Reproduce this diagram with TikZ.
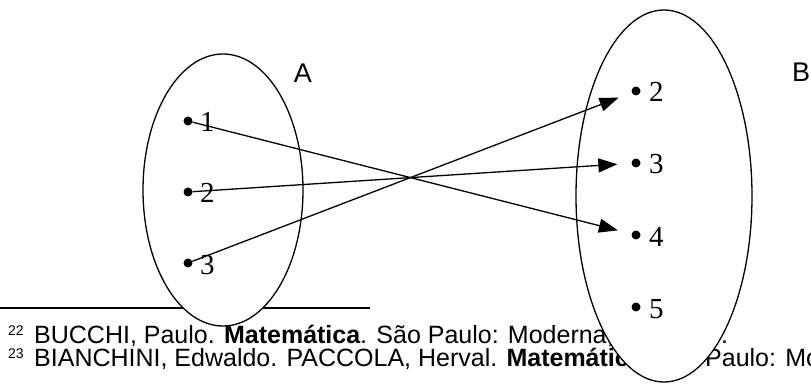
\documentclass[tikz,border=0pt]{standalone}
\usepackage{fontspec}
\setmainfont{Liberation Serif}
\newfontfamily\arialfont{Liberation Sans}
\usetikzlibrary{arrows.meta, positioning}

\begin{document}
\begin{tikzpicture}[x=1pt, y=-1pt,
    elem/.style={circle, fill=black, inner sep=0pt, minimum size=9pt},
    num/.style={anchor=base west, inner sep=0pt, font=\fontsize{29}{30}\selectfont},
    setname/.style={inner sep=0pt, font=\arialfont\fontsize{27}{30}\selectfont},
    fnote/.style={anchor=base west, inner sep=0pt, font=\arialfont\fontsize{25}{28}\selectfont},
    fnmark/.style={anchor=base west, inner sep=0pt, font=\arialfont\fontsize{14}{16}\selectfont},
    mapsto/.style={line width=1.3pt, -{Triangle[length=19pt, width=14pt]}, shorten >=14pt}]
    \useasboundingbox (0,0) rectangle (811,390);

    % Footnotes, partly hidden by the sets
    \draw[line width=1.5pt] (0,308) -- (370,308);
    \node[fnmark] (m22) at (8,335) {22};
    \node[fnote] (fn22) at (34,343) {BUCCHI, Paulo. \textbf{Matemática}. São Paulo: Moderna,};
    \node[fnote] (fn22end) at (721,343) {.};
    \node[fnmark] (m23) at (8,358) {23};
    \node[fnote] (fn23) at (34,366) {BIANCHINI, Edwaldo. PACCOLA, Herval. \textbf{Matemática}.};
    \node[fnote] (fn23end) at (705,366) {Paulo: Moderna};

    % Sets A and B
    \draw[line width=1.3pt, fill=white] (223,190) ellipse [x radius=80pt, y radius=136pt];
    \draw[line width=1.3pt, fill=white] (664,196) ellipse [x radius=88pt, y radius=186pt];
    \node[setname] (labA) at (303,73) {A};
    \node[setname, anchor=west] (labB) at (792,72) {B};

    % Elements
    \foreach \n/\y in {1/121, 2/192, 3/263} {
        \node[elem] (a\n) at (188,\y) {};
        \node[num] (na\n) at (200,{\y+11}) {\n};
    }
    \foreach \n/\y in {2/91, 3/163, 4/235, 5/307} {
        \node[elem] (b\n) at (636,\y) {};
        \node[num] (nb\n) at (649,{\y+11}) {\n};
    }

    % Mapping
    \draw[mapsto] (a1) -- (b4);
    \draw[mapsto] (a2) -- (b3);
    \draw[mapsto] (a3) -- (b2);
\end{tikzpicture}
\end{document}
